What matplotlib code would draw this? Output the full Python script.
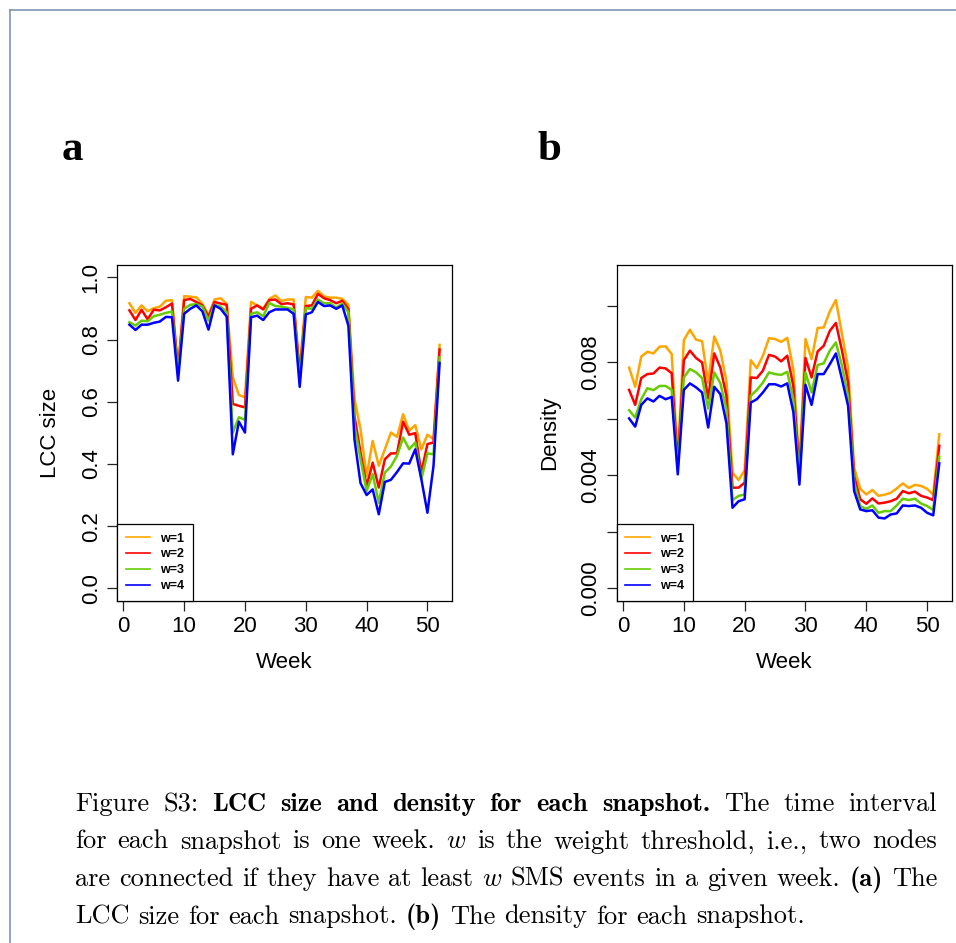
import numpy as np
import matplotlib.pyplot as plt
from matplotlib.lines import Line2D

plt.rcParams['font.family'] = ['Liberation Sans', 'DejaVu Sans']

weeks = np.arange(1, 53)

# LCC size per week, one list per weight threshold
lcc_w1 = [0.917, 0.886, 0.910, 0.891, 0.901, 0.906, 0.925, 0.927, 0.710, 0.940,
          0.938, 0.936, 0.915, 0.878, 0.929, 0.933, 0.915, 0.679, 0.622, 0.614,
          0.921, 0.910, 0.899, 0.931, 0.942, 0.924, 0.929, 0.929, 0.700, 0.937,
          0.935, 0.957, 0.939, 0.935, 0.935, 0.931, 0.912, 0.609, 0.512, 0.361,
          0.474, 0.394, 0.447, 0.501, 0.487, 0.560, 0.507, 0.525, 0.447, 0.494,
          0.480, 0.783]
lcc_w2 = [0.894, 0.863, 0.896, 0.865, 0.896, 0.894, 0.904, 0.916, 0.700, 0.927,
          0.931, 0.921, 0.910, 0.874, 0.921, 0.916, 0.912, 0.593, 0.587, 0.582,
          0.899, 0.910, 0.897, 0.927, 0.929, 0.914, 0.917, 0.913, 0.690, 0.908,
          0.910, 0.947, 0.933, 0.927, 0.917, 0.925, 0.899, 0.555, 0.437, 0.329,
          0.404, 0.324, 0.415, 0.434, 0.434, 0.536, 0.494, 0.499, 0.372, 0.464,
          0.469, 0.768]
lcc_w3 = [0.856, 0.845, 0.861, 0.859, 0.875, 0.880, 0.886, 0.890, 0.690, 0.899,
          0.912, 0.914, 0.906, 0.861, 0.912, 0.906, 0.888, 0.501, 0.550, 0.542,
          0.883, 0.888, 0.875, 0.918, 0.908, 0.906, 0.902, 0.897, 0.670, 0.902,
          0.899, 0.929, 0.917, 0.917, 0.903, 0.916, 0.888, 0.523, 0.415, 0.313,
          0.367, 0.275, 0.372, 0.392, 0.426, 0.485, 0.447, 0.469, 0.351, 0.434,
          0.431, 0.743]
lcc_w4 = [0.848, 0.831, 0.848, 0.848, 0.854, 0.858, 0.873, 0.872, 0.668, 0.883,
          0.899, 0.910, 0.891, 0.832, 0.910, 0.899, 0.874, 0.431, 0.536, 0.501,
          0.872, 0.877, 0.863, 0.888, 0.897, 0.897, 0.897, 0.883, 0.648, 0.881,
          0.888, 0.921, 0.908, 0.910, 0.899, 0.910, 0.845, 0.480, 0.338, 0.300,
          0.318, 0.238, 0.342, 0.349, 0.374, 0.402, 0.401, 0.447, 0.351, 0.243,
          0.394, 0.725]

# density per week
dens_w1 = [0.00781, 0.00713, 0.00820, 0.00837, 0.00831, 0.00855, 0.00856, 0.00829, 0.00460, 0.00878,
           0.00915, 0.00880, 0.00874, 0.00728, 0.00891, 0.00841, 0.00734, 0.00409, 0.00383, 0.00418,
           0.00807, 0.00779, 0.00823, 0.00885, 0.00882, 0.00872, 0.00886, 0.00775, 0.00430, 0.00882,
           0.00811, 0.00921, 0.00923, 0.00980, 0.01020, 0.00900, 0.00781, 0.00427, 0.00352, 0.00332,
           0.00348, 0.00327, 0.00331, 0.00338, 0.00353, 0.00371, 0.00355, 0.00366, 0.00362, 0.00352,
           0.00331, 0.00545]
dens_w2 = [0.00702, 0.00649, 0.00744, 0.00758, 0.00760, 0.00781, 0.00778, 0.00761, 0.00440, 0.00807,
           0.00841, 0.00815, 0.00799, 0.00672, 0.00831, 0.00781, 0.00681, 0.00356, 0.00356, 0.00374,
           0.00746, 0.00744, 0.00770, 0.00826, 0.00820, 0.00803, 0.00823, 0.00716, 0.00410, 0.00815,
           0.00746, 0.00838, 0.00858, 0.00911, 0.00939, 0.00841, 0.00728, 0.00397, 0.00315, 0.00299,
           0.00318, 0.00300, 0.00303, 0.00308, 0.00317, 0.00344, 0.00336, 0.00342, 0.00327, 0.00321,
           0.00312, 0.00504]
dens_w3 = [0.00630, 0.00604, 0.00669, 0.00708, 0.00701, 0.00716, 0.00716, 0.00702, 0.00420, 0.00746,
           0.00776, 0.00764, 0.00744, 0.00636, 0.00764, 0.00726, 0.00634, 0.00312, 0.00327, 0.00332,
           0.00681, 0.00702, 0.00728, 0.00764, 0.00758, 0.00755, 0.00766, 0.00669, 0.00390, 0.00764,
           0.00693, 0.00790, 0.00796, 0.00841, 0.00870, 0.00787, 0.00681, 0.00374, 0.00291, 0.00281,
           0.00293, 0.00267, 0.00273, 0.00273, 0.00293, 0.00317, 0.00312, 0.00317, 0.00300, 0.00291,
           0.00277, 0.00465]
dens_w4 = [0.00601, 0.00572, 0.00649, 0.00672, 0.00661, 0.00681, 0.00669, 0.00677, 0.00403, 0.00702,
           0.00725, 0.00711, 0.00693, 0.00569, 0.00713, 0.00687, 0.00584, 0.00285, 0.00308, 0.00315,
           0.00657, 0.00669, 0.00693, 0.00722, 0.00722, 0.00714, 0.00725, 0.00624, 0.00367, 0.00720,
           0.00649, 0.00758, 0.00758, 0.00793, 0.00831, 0.00740, 0.00646, 0.00344, 0.00279, 0.00273,
           0.00276, 0.00250, 0.00247, 0.00261, 0.00265, 0.00293, 0.00291, 0.00293, 0.00285, 0.00267,
           0.00258, 0.00442]

labels = ['w=1', 'w=2', 'w=3', 'w=4']
colors = ['#FFA500', '#FF0000', '#66CD00', '#0000FF']
x_ticks = [0, 10, 20, 30, 40, 50]
lcc_ticks = [0.0, 0.2, 0.4, 0.6, 0.8, 1.0]
lcc_ticklabels = ['0.0', '0.2', '0.4', '0.6', '0.8', '1.0']
dens_ticks = [0.0, 0.002, 0.004, 0.006, 0.008, 0.010]
dens_ticklabels = ['0.000', '', '0.004', '', '0.008', '']

W, H = 956, 943
fig = plt.figure(figsize=(W / 100, H / 100), dpi=100)

# page frame
fig.add_artist(Line2D([10 / W, 1], [1 - 10 / H, 1 - 10 / H], color='#7b97b3', lw=1.2))
fig.add_artist(Line2D([10 / W, 10 / W], [0, 1 - 10 / H], color='#7b97b3', lw=1.2))

ax_a = fig.add_axes([117 / W, 1 - 600.7 / H, 335 / W, 335.7 / H])
ax_b = fig.add_axes([616.7 / W, 1 - 600.7 / H, 335 / W, 335.7 / H])

def setup(ax, series, yticks, yticklabels, ylim, ylabel):
    for s, c, lab in zip(series, colors, labels):
        ax.plot(weeks, s, color=c, lw=1.8, label=lab)
    ax.set_xlim(-1.04, 54.04)
    ax.set_ylim(*ylim)
    ax.set_xticks(x_ticks)
    ax.set_yticks(yticks)
    ax.set_yticklabels(yticklabels)
    ax.tick_params(direction='out', length=7, width=0.9, labelsize=16, color='#222222')
    ax.tick_params(axis='x', pad=4)
    ax.tick_params(axis='y', pad=4, labelrotation=90)
    for t in ax.get_yticklabels():
        t.set_va('center')
    for sp in ax.spines.values():
        sp.set_linewidth(0.9)
    ax.set_xlabel('Week', fontsize=16)
    ax.set_ylabel(ylabel, fontsize=16)
    ax.xaxis.set_label_coords(0.5, -0.183)
    ax.xaxis.label.set_va('center')
    ax.yaxis.set_label_coords(-0.2, 0.5)
    ax.yaxis.label.set_va('center')
    leg = ax.legend(loc='lower left', borderaxespad=0, fancybox=False,
                    edgecolor='black', framealpha=1, prop={'weight': 'bold', 'size': 9},
                    handlelength=1.95, handletextpad=0.8, borderpad=0.7, labelspacing=0.3)
    leg.get_frame().set_linewidth(0.9)
    for ln in leg.get_lines():
        ln.set_linewidth(1.2)

setup(ax_a, [lcc_w1, lcc_w2, lcc_w3, lcc_w4], lcc_ticks, lcc_ticklabels, (-0.04, 1.04), 'LCC size')
setup(ax_b, [dens_w1, dens_w2, dens_w3, dens_w4], dens_ticks, dens_ticklabels,
      (-0.00044, 0.01144), 'Density')

# panel letters
fig.text(62 / W, 1 - 160 / H, 'a', family='Liberation Serif', weight='bold', size=31, va='baseline')
fig.text(537 / W, 1 - 160 / H, 'b', family='Liberation Serif', weight='bold', size=31, va='baseline')

# caption, set word by word so the lines can be justified
fonts = {'r': 'cmr10', 'b': 'cmb10', 'i': 'cmmi10'}
caption = [
    (811, True, [('Figure S3:', 'r'), ('LCC size and density for each snapshot.', 'b'),
                 ('The time interval', 'r')]),
    (848.5, True, [('for each snapshot is one week.', 'r'), ('w', 'i'),
                   ('is the weight threshold, i.e., two nodes', 'r')]),
    (886, True, [('are connected if they have at least', 'r'), ('w', 'i'),
                 ('SMS events in a given week.', 'r'), ('(a)', 'b'), ('The', 'r')]),
    (923.5, False, [('LCC size for each snapshot.', 'r'), ('(b)', 'b'),
                    ('The density for each snapshot.', 'r')]),
]
x0, x1 = 75, 937
cap_size = 19
renderer = fig.canvas.get_renderer()
for y, justify, parts in caption:
    words = []
    for txt, style in parts:
        for wd in txt.split():
            words.append(fig.text(0, 1 - y / H, wd, family=fonts[style], size=cap_size,
                                  va='baseline', ha='left'))
    widths = [t.get_window_extent(renderer).width for t in words]
    if justify:
        gap = (x1 - x0 - sum(widths)) / (len(words) - 1)
    else:
        gap = 0.333 * cap_size * 100 / 72
    x = x0
    for t, wdt in zip(words, widths):
        t.set_x(x / W)
        x += wdt + gap

fig.savefig('out.png', dpi=100)
